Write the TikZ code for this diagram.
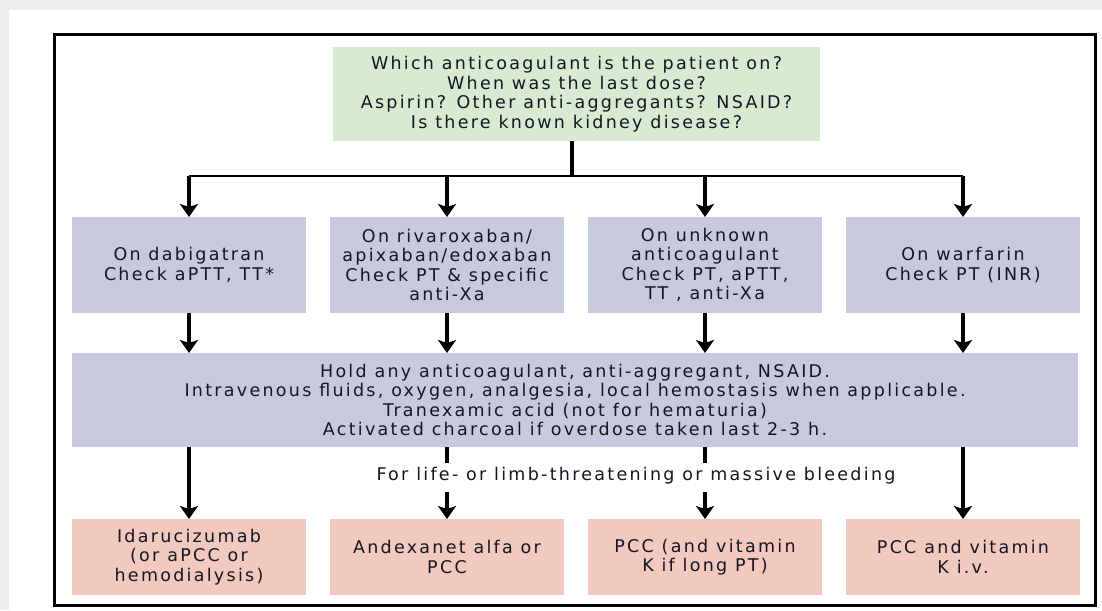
\documentclass[tikz,border=0pt]{standalone}
\usepackage{fontspec}
\setmainfont{DejaVu Sans}[LetterSpace=13]
\usetikzlibrary{arrows.meta}
\definecolor{qgreen}{RGB}{217,234,211}
\definecolor{cblue}{RGB}{199,202,222}
\definecolor{tpink}{RGB}{241,201,190}
\definecolor{txt}{RGB}{22,22,34}
\definecolor{bgray}{RGB}{236,236,236}
\tikzset{
  base/.style={rectangle, inner sep=0pt, outer sep=0pt, align=center, text=txt,
    font=\fontsize{17.5}{19.5}\selectfont},
  qbox/.style={base, fill=qgreen},
  cbox/.style={base, fill=cblue},
  tbox/.style={base, fill=tpink},
  conn/.style={line width=3.5pt, draw=black},
  hline/.style={line width=2.5pt, draw=black},
  trunk/.style={line width=4.5pt, draw=black},
  arr/.style={conn, -{Stealth[width=18pt,length=13pt,inset=3pt]}},
  lbl/.style={inner sep=0pt, text=txt, font=\fontsize{17.5}{19.5}\selectfont}
}
\begin{document}
\begin{tikzpicture}[x=1pt,y=-1pt]
\fill[bgray] (0,0) rectangle (1102,610);
\fill[white] (9,10) rectangle (1102,610);
\useasboundingbox (0,0) rectangle (1102,610);
\draw[line width=3pt] (54,35) rectangle (1095,605);

\node[qbox, minimum width=487pt, minimum height=94pt] (q) at (576.5,94)
  {Which anticoagulant is the patient on?\\When was the last dose?\\Aspirin? Other anti-aggregants? NSAID?\\Is there known kidney disease?};

\node[cbox, minimum width=234pt, minimum height=96pt] (c1) at (189,265)
  {On dabigatran\\Check aPTT, TT*};
\node[cbox, minimum width=234pt, minimum height=96pt] (c2) at (447,265)
  {On rivaroxaban/\\apixaban/edoxaban\\Check PT \& specific\\anti-Xa};
\node[cbox, minimum width=234pt, minimum height=96pt] (c3) at (705,265)
  {On unknown\\anticoagulant\\Check PT, aPTT,\\TT , anti-Xa};
\node[cbox, minimum width=234pt, minimum height=96pt] (c4) at (963,265)
  {On warfarin\\Check PT (INR)};

\node[cbox, minimum width=1006pt, minimum height=94pt] (h) at (575,400)
  {Hold any anticoagulant, anti-aggregant, NSAID.\\Intravenous fluids, oxygen, analgesia, local hemostasis when applicable.\\Tranexamic acid (not for hematuria)\\Activated charcoal if overdose taken last 2-3 h.};

\node[tbox, minimum width=234pt, minimum height=76pt] (t1) at (189,557)
  {Idarucizumab\\(or aPCC or\\hemodialysis)};
\node[tbox, minimum width=234pt, minimum height=76pt] (t2) at (447,557)
  {Andexanet alfa or\\PCC};
\node[tbox, minimum width=234pt, minimum height=76pt] (t3) at (705,557)
  {PCC (and vitamin\\K if long PT)};
\node[tbox, minimum width=234pt, minimum height=76pt] (t4) at (963,557)
  {PCC and vitamin\\K i.v.};

\node[lbl] (life) at (636,476) {For life- or limb-threatening or massive bleeding};

\coordinate (j) at (572,176);
\draw[trunk] (q.south -| j) -- (j);
\draw[hline] (c1.north |- j) -- (c4.north |- j);
\foreach \i in {1,...,4}{
  \draw[arr] (c\i.north |- j) -- (c\i.north);
  \draw[arr] (c\i.south) -- (c\i.south |- h.north);
}
\draw[arr] (t1.north |- h.south) -- (t1.north);
\draw[arr] (t4.north |- h.south) -- (t4.north);
\foreach \i in {2,3}{
  \draw[conn] (t\i.north |- h.south) -- ++(0,16);
  \draw[arr] (t\i.north) ++(0,-27) -- (t\i.north);
}
\end{tikzpicture}
\end{document}
